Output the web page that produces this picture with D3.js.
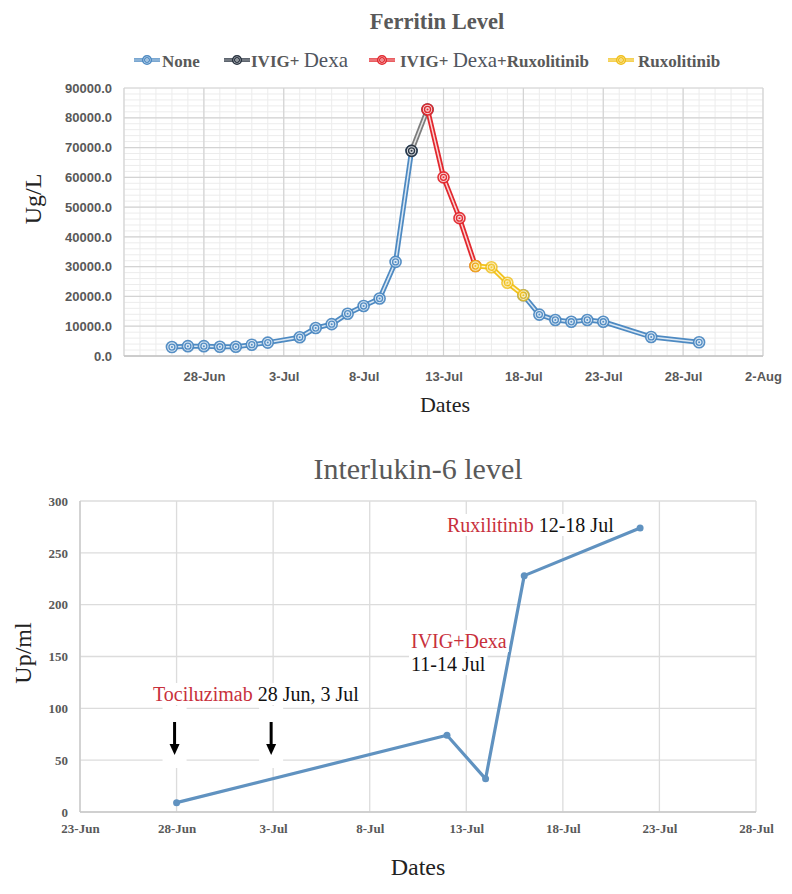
<!DOCTYPE html>
<html><head><meta charset="utf-8">
<script src="https://cdn.jsdelivr.net/npm/d3@7"></script>
<style>body{margin:0;background:#fff} svg{display:block}</style>
</head><body>
<svg id="c" width="792" height="894"></svg>
<script>
// ---------------- DATA ----------------
const ferritinDates = ["2020-06-26","2020-06-27","2020-06-28","2020-06-29","2020-06-30","2020-07-01","2020-07-02","2020-07-04","2020-07-05","2020-07-06","2020-07-07","2020-07-08","2020-07-09","2020-07-10","2020-07-11","2020-07-12","2020-07-13","2020-07-14","2020-07-15","2020-07-16","2020-07-17","2020-07-18","2020-07-19","2020-07-20","2020-07-21","2020-07-22","2020-07-23","2020-07-26","2020-07-29"];
const seriesNames = ["None", "IVIG+ Dexa", "IVIG+ Dexa+Ruxolitinib", "Ruxolitinib"];
const noneVals = [3000,3300,3300,3100,3100,3800,4500,6300,9400,10700,14200,16800,19300,31600,68900,null,null,null,null,null,null,20400,13900,12100,11500,12100,11500,6400,4600];
const ivigDexaVals = [null,null,null,null,null,null,null,null,null,null,null,null,null,null,68900,82800,null,null,null,null,null,null,null,null,null,null,null,null,null];
const ivigDexaRuxVals = [null,null,null,null,null,null,null,null,null,null,null,null,null,null,null,82800,60000,46300,30200,null,null,null,null,null,null,null,null,null,null];
const ruxVals = [null,null,null,null,null,null,null,null,null,null,null,null,null,null,null,null,null,null,30200,29800,24600,20400,null,null,null,null,null,null,null];
const ferritinYTicks = [0,10000,20000,30000,40000,50000,60000,70000,80000,90000];
const ferritinXTicks = ["2020-06-28","2020-07-03","2020-07-08","2020-07-13","2020-07-18","2020-07-23","2020-07-28","2020-08-02"];

const il6Dates = ["2020-06-28","2020-07-12","2020-07-14","2020-07-16","2020-07-22"];
const il6Vals = [9, 74, 32, 228, 274];
const il6YTicks = [0,50,100,150,200,250,300];
const il6XTicks = ["2020-06-23","2020-06-28","2020-07-03","2020-07-08","2020-07-13","2020-07-18","2020-07-23","2020-07-28"];
const tociDates = ["2020-06-28","2020-07-03"];

// ---------------- SETUP ----------------
const parse = d3.timeParse("%Y-%m-%d");
const fmtDate = d3.timeFormat("%-d-%b");
const svg = d3.select("#c");
svg.append("rect").attr("width",792).attr("height",894).attr("fill","#fff");
const serif = "'Liberation Serif','Times New Roman',serif";
const sans = "'Liberation Sans',Arial,sans-serif";

// ================= TOP CHART =================
const xT = d3.scaleTime().domain([parse("2020-06-23"), parse("2020-08-02")]).range([124,763]);
const yT = d3.scaleLinear().domain([0,90000]).range([356,88]);
const gT = svg.append("g");
const allDays = d3.timeDay.range(xT.domain()[0], d3.timeDay.offset(xT.domain()[1],1));
// minor grid
gT.append("g").selectAll("line").data(allDays).join("line")
  .attr("x1",d=>xT(d)).attr("x2",d=>xT(d)).attr("y1",yT(0)).attr("y2",yT(90000))
  .attr("stroke","#ececec").attr("stroke-width",1);
gT.append("g").selectAll("line").data(d3.range(0,90001,2000)).join("line")
  .attr("x1",xT.range()[0]).attr("x2",xT.range()[1]).attr("y1",d=>yT(d)).attr("y2",d=>yT(d))
  .attr("stroke","#ececec").attr("stroke-width",1);
// major grid
gT.append("g").selectAll("line").data(allDays.filter((d,i)=>i%5===0)).join("line")
  .attr("x1",d=>xT(d)).attr("x2",d=>xT(d)).attr("y1",yT(0)).attr("y2",yT(90000))
  .attr("stroke","#d3d3d3").attr("stroke-width",1.2);
gT.append("g").selectAll("line").data(ferritinYTicks).join("line")
  .attr("x1",xT.range()[0]).attr("x2",xT.range()[1]).attr("y1",d=>yT(d)).attr("y2",d=>yT(d))
  .attr("stroke","#d3d3d3").attr("stroke-width",1.2);
gT.append("line").attr("x1",xT.range()[0]).attr("x2",xT.range()[1]).attr("y1",yT(0)).attr("y2",yT(0)).attr("stroke","#c4c4c4").attr("stroke-width",1.5);

// axes
const axLT = gT.append("g").attr("transform",`translate(${xT.range()[0]},0)`)
  .call(d3.axisLeft(yT).tickValues(ferritinYTicks).tickFormat(d3.format(".1f")).tickSize(0).tickPadding(12));
axLT.select(".domain").remove();
axLT.selectAll("text").attr("font-family",sans).attr("font-weight","bold").attr("font-size",13).attr("fill","#595959");
const axBT = gT.append("g").attr("transform",`translate(0,${yT(0)})`)
  .call(d3.axisBottom(xT).tickValues(ferritinXTicks.map(parse)).tickFormat(fmtDate).tickSize(0));
axBT.select(".domain").remove();
axBT.selectAll("text").attr("y",25).attr("dy",0).attr("font-family",sans).attr("font-weight","bold").attr("font-size",13).attr("fill","#595959");

// series
const colors = [
  {line:"#4e8ac2", mark:"#4e8ac2", fill:"#dce9f5"},
  {line:"#7d7d7d", mark:"#28323f", fill:"#d8dadd"},
  {line:"#e2282e", mark:"#e2282e", fill:"#f8d3d4"},
  {line:"#f2c21b", mark:"#f0bf1a", fill:"#fbefc0"}
];
const seriesVals = [noneVals, ivigDexaVals, ivigDexaRuxVals, ruxVals];
const lineGen = d3.line().defined(d=>d.v!=null).x(d=>xT(d.d)).y(d=>yT(d.v));
function drawMarker(g, x, y, c, r, op){
  const m = g.append("g").attr("opacity",op);
  m.append("circle").attr("cx",x).attr("cy",y).attr("r",r).attr("fill",c.fill).attr("stroke",c.mark).attr("stroke-width",1.6);
  m.append("circle").attr("cx",x).attr("cy",y).attr("r",r*0.55).attr("fill","none").attr("stroke",c.mark).attr("stroke-width",1.3);
  m.append("circle").attr("cx",x).attr("cy",y).attr("r",r*0.18).attr("fill",c.mark);
}
seriesVals.forEach((vals,si)=>{
  const pts = ferritinDates.map((d,i)=>({d:parse(d), v:vals[i]}));
  const c = colors[si];
  const g = gT.append("g");
  g.append("path").datum(pts).attr("d",lineGen).attr("fill","none").attr("stroke",c.line).attr("stroke-width",5).attr("stroke-linejoin","round");
  g.append("path").datum(pts).attr("d",lineGen).attr("fill","none").attr("stroke","#fff").attr("stroke-opacity",0.8).attr("stroke-width",1.5).attr("stroke-linejoin","round");
  pts.filter(p=>p.v!=null).forEach(p=>drawMarker(g, xT(p.d), yT(p.v), c, 5.5, si===3?0.82:0.95));
});

// title
svg.append("text").attr("x",437).attr("y",29).attr("text-anchor","middle")
  .attr("font-family",serif).attr("font-weight","bold").attr("font-size",22.5).attr("fill","#595959").text("Ferritin Level");

// legend
const legendPos = [{sx:147, tx:162},{sx:237, tx:251},{sx:382, tx:400},{sx:621, tx:638}];
seriesNames.forEach((name,i)=>{
  const c = colors[i], p = legendPos[i];
  const g = svg.append("g");
  g.append("line").attr("x1",p.sx-13).attr("x2",p.sx+13).attr("y1",60).attr("y2",60).attr("stroke",i===1?"#28323f":c.line).attr("stroke-width",3.5);
  g.append("line").attr("x1",p.sx-13).attr("x2",p.sx+13).attr("y1",60).attr("y2",60).attr("stroke","#fff").attr("stroke-opacity",0.7).attr("stroke-width",1);
  drawMarker(g, p.sx, 60, c, 4.3, 1);
  const t = g.append("text").attr("x",p.tx).attr("y",67).attr("font-family",serif).attr("fill","#595959");
  // split so "Dexa" is rendered larger as in the source
  const parts = name.split(/(Dexa)/).filter(s=>s.length);
  parts.forEach(s=>{
    if (s==="Dexa") t.append("tspan").attr("font-size",21).attr("font-weight","normal").attr("fill","#505560").text("Dexa");
    else t.append("tspan").attr("font-size",17).attr("font-weight","bold").attr("xml:space","preserve").text(s);
  });
});

// axis titles
svg.append("text").attr("transform","translate(41,199) rotate(-90)").attr("text-anchor","middle")
  .attr("font-family",serif).attr("font-size",24).attr("fill","#222").text("Ug/L");
svg.append("text").attr("x",445).attr("y",412).attr("text-anchor","middle")
  .attr("font-family",serif).attr("font-size",22).attr("fill","#222").text("Dates");

// ================= BOTTOM CHART =================
const xB = d3.scaleTime().domain([parse("2020-06-23"), parse("2020-07-28")]).range([80,756]);
const yB = d3.scaleLinear().domain([0,300]).range([812,501]);
const gB = svg.append("g");
gB.append("g").selectAll("line").data(il6XTicks.map(parse)).join("line")
  .attr("x1",d=>xB(d)).attr("x2",d=>xB(d)).attr("y1",yB(0)).attr("y2",yB(300))
  .attr("stroke","#dcdcdc").attr("stroke-width",1.3);
gB.append("g").selectAll("line").data(il6YTicks).join("line")
  .attr("x1",xB.range()[0]).attr("x2",xB.range()[1]).attr("y1",d=>yB(d)).attr("y2",d=>yB(d))
  .attr("stroke","#dcdcdc").attr("stroke-width",1.3);
gB.append("line").attr("x1",xB.range()[0]).attr("x2",xB.range()[1]).attr("y1",yB(0)).attr("y2",yB(0)).attr("stroke","#c8c8c8").attr("stroke-width",1.5);
gB.append("line").attr("x1",xB.range()[0]).attr("x2",xB.range()[0]).attr("y1",yB(0)).attr("y2",yB(300)).attr("stroke","#c8c8c8").attr("stroke-width",1.3);

const axLB = gB.append("g").attr("transform",`translate(${xB.range()[0]},0)`)
  .call(d3.axisLeft(yB).tickValues(il6YTicks).tickSize(0).tickPadding(12));
axLB.select(".domain").remove();
axLB.selectAll("text").attr("font-family",serif).attr("font-weight","bold").attr("font-size",13).attr("fill","#595959");
const axBB = gB.append("g").attr("transform",`translate(0,${yB(0)})`)
  .call(d3.axisBottom(xB).tickValues(il6XTicks.map(parse)).tickFormat(fmtDate).tickSize(0));
axBB.select(".domain").remove();
axBB.selectAll("text").attr("y",21).attr("dy",0).attr("font-family",serif).attr("font-weight","bold").attr("font-size",13).attr("fill","#595959");

// annotation backgrounds + text
const annG = svg.append("g");
function addText(x,y,parts){
  const t = annG.append("text").attr("x",x).attr("y",y).attr("font-family",serif).attr("font-size",20);
  parts.forEach(p=>t.append("tspan").attr("fill",p.c).attr("xml:space","preserve").text(p.s));
  const b = t.node().getBBox();
  annG.insert("rect","text").attr("x",b.x-2).attr("y",b.y).attr("width",b.width+4).attr("height",b.height).attr("fill","#fff");
  return t;
}
const red = "#c8303c";
addText(153,701,[{s:"Tociluzimab",c:red},{s:" 28 Jun, 3 Jul",c:"#111"}]);
addText(447,532,[{s:"Ruxilitinib",c:red},{s:" 12-18 Jul",c:"#111"}]);
addText(411,648,[{s:"IVIG+Dexa",c:red}]);
addText(411,671,[{s:"11-14 Jul",c:"#111"}]);

// arrows (Tociluzimab doses)
tociDates.forEach(d=>{
  const x = xB(parse(d)) - 2;
  annG.append("rect").attr("x",x-12).attr("y",706).attr("width",24).attr("height",62).attr("fill","#fff");
  annG.append("line").attr("x1",x).attr("x2",x).attr("y1",722).attr("y2",746).attr("stroke","#000").attr("stroke-width",3);
  annG.append("path").attr("d",`M${x-5},744 L${x+5},744 L${x},755 Z`).attr("fill","#000");
});

// IL-6 line
const il6Pts = il6Dates.map((d,i)=>({d:parse(d), v:il6Vals[i]}));
gB.append("path").datum(il6Pts).attr("d",d3.line().x(d=>xB(d.d)).y(d=>yB(d.v)))
  .attr("fill","none").attr("stroke","#6092c0").attr("stroke-width",3.2).attr("stroke-linejoin","round");
gB.append("g").selectAll("circle").data(il6Pts).join("circle")
  .attr("cx",d=>xB(d.d)).attr("cy",d=>yB(d.v)).attr("r",3.5).attr("fill","#6092c0");

// titles
svg.append("text").attr("x",418).attr("y",479).attr("text-anchor","middle")
  .attr("font-family",serif).attr("font-size",30).attr("fill","#595959").text("Interlukin-6 level");
svg.append("text").attr("transform","translate(31,653) rotate(-90)").attr("text-anchor","middle")
  .attr("font-family",serif).attr("font-size",24).attr("fill","#222").text("Up/ml");
svg.append("text").attr("x",418).attr("y",875).attr("text-anchor","middle")
  .attr("font-family",serif).attr("font-size",24).attr("fill","#222").text("Dates");
</script>
</body></html>
